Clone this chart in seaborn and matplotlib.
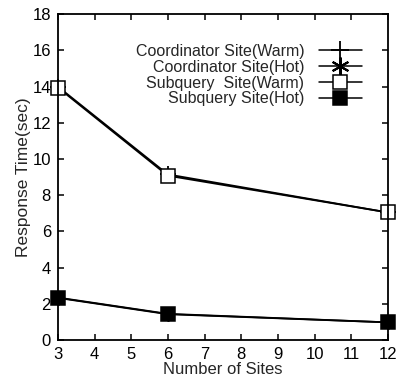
import matplotlib
matplotlib.use("Agg")
import matplotlib.pyplot as plt
import seaborn as sns
import pandas as pd
from matplotlib.lines import Line2D

sites = [3, 6, 12]
coord_warm = [14.0, 9.15, 7.05]
coord_hot = [2.35, 1.45, 0.98]
sub_warm = [13.95, 9.08, 7.05]
sub_hot = [2.33, 1.43, 0.98]
series_names = ["Coordinator Site(Warm)", "Coordinator Site(Hot)",
                "Subquery  Site(Warm)", "Subquery Site(Hot)"]
x_ticks = list(range(3, 13))
y_ticks = list(range(0, 19, 2))

sns.set_theme(style="ticks")
plt.rcParams['font.family'] = ['Liberation Sans', 'DejaVu Sans']

fig = plt.figure(figsize=(3.99, 3.83), dpi=100)
ax = fig.add_axes([0.145, 0.112, 0.827, 0.851])

styles = [
    dict(marker="+", markersize=13, mew=1.3, mfc="black", mec="black"),
    dict(marker=(6, 2, 0), markersize=13, mew=1.5, mfc="black", mec="black"),
    dict(marker="s", markersize=10.5, mew=1.1, mfc="white", mec="black"),
    dict(marker="s", markersize=10.5, mew=1.1, mfc="black", mec="black"),
]
plot_sizes = [11, 10, 10.5, 10.5]
values = [coord_warm, coord_hot, sub_warm, sub_hot]

for name, vals, st, ms in zip(series_names, values, styles, plot_sizes):
    df = pd.DataFrame({"Number of Sites": sites, "Response Time(sec)": vals})
    kw = dict(st)
    kw["markersize"] = ms
    sns.lineplot(data=df, x="Number of Sites", y="Response Time(sec)", ax=ax,
                 color="black", linewidth=1.3, clip_on=False, **kw)

ax.set_xlim(3, 12)
ax.set_ylim(0, 18)
ax.set_xticks(x_ticks)
ax.set_yticks(y_ticks)
ax.tick_params(direction="in", top=True, right=True, length=4, width=1.1,
               labelsize=12, colors="black", pad=5)
for s in ax.spines.values():
    s.set_linewidth(1.3)
    s.set_color("black")
ax.set_xlabel("Number of Sites", fontsize=12, labelpad=0)
ax.set_ylabel("Response Time(sec)", fontsize=12.5, labelpad=1)

handles = [Line2D([0], [0], color="black", linewidth=1.1, **st) for st in styles]
ax.legend(handles, series_names, loc="upper right", bbox_to_anchor=(0.94, 0.928),
          frameon=False, markerfirst=False, fontsize=11.5, handlelength=2.7,
          labelspacing=0.05, handletextpad=0.9, borderaxespad=0)

fig.savefig("out.png", dpi=100)
